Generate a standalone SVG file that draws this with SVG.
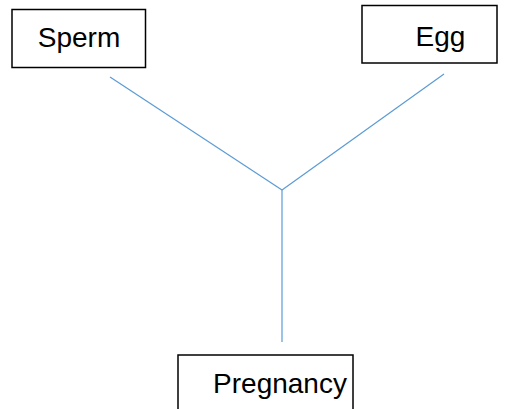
<svg xmlns="http://www.w3.org/2000/svg" width="510" height="409" viewBox="0 0 510 409">
<style>
.box{fill:#fff;stroke:#000;stroke-width:1.5}
.lbl{font-family:"Liberation Sans",Arial,sans-serif;font-size:28px;fill:#000;text-anchor:middle}
.con{stroke:#5B9BD5;stroke-width:1.2;fill:none}
</style>
<rect width="510" height="409" fill="#fff"/>
<g id="connectors">
<line class="con" x1="110" y1="77" x2="282" y2="190"/>
<line class="con" x1="444" y1="74" x2="282" y2="190"/>
<line class="con" x1="282" y1="190" x2="282" y2="342"/>
</g>
<g id="sperm">
<rect class="box" x="12" y="9.5" width="133.5" height="58"/>
<text class="lbl" x="79" y="46.7">Sperm</text>
</g>
<g id="egg">
<rect class="box" x="362" y="5.5" width="135" height="57.5"/>
<text class="lbl" x="440.5" y="46">Egg</text>
</g>
<g id="pregnancy">
<rect class="box" x="178" y="355" width="175" height="60"/>
<text class="lbl" x="280" y="392.7">Pregnancy</text>
</g>
</svg>
